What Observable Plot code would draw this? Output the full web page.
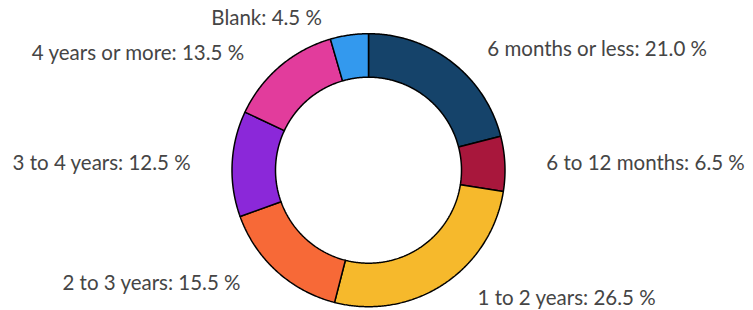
<!DOCTYPE html>
<html>
<head>
<meta charset="utf-8">
<script src="https://cdn.jsdelivr.net/npm/d3@7"></script>
<script src="https://cdn.jsdelivr.net/npm/@observablehq/plot@0.6"></script>
<style>
  html, body { margin: 0; padding: 0; background: #fff; }
  #chart svg { display: block; }
</style>
</head>
<body>
<div id="chart"></div>
<script>
const categories = ["6 months or less", "6 to 12 months", "1 to 2 years", "2 to 3 years", "3 to 4 years", "4 years or more", "Blank"];
const values = [21.0, 6.5, 26.5, 15.5, 12.5, 13.5, 4.5];
const colors = ["#15436a", "#a8173c", "#f6b92c", "#f76937", "#8b28d9", "#e23c9c", "#3399ee"];

const W = 753, H = 310;
const cx = 368, cy = 169.7;          // centre in pixels
const R = 136.5, r0 = 93;            // outer / inner radius
const labelR = 153, labelDx = 25;

const total = d3.sum(values);
const pie = [];
let acc = 0;
categories.forEach((c, i) => {
  const a0 = acc / total * 2 * Math.PI;
  acc += values[i];
  const a1 = acc / total * 2 * Math.PI;
  pie.push({cat: c, value: values[i], color: colors[i], a0, a1, mid: (a0 + a1) / 2});
});

// polygon points for each slice (y up)
const pts = [];
for (const s of pie) {
  const n = Math.max(4, Math.ceil((s.a1 - s.a0) / (Math.PI / 360)));
  for (let k = 0; k <= n; k++) {
    const a = s.a0 + (s.a1 - s.a0) * k / n;
    pts.push({cat: s.cat, color: s.color, x: R * Math.sin(a), y: R * Math.cos(a)});
  }
  for (let k = n; k >= 0; k--) {
    const a = s.a0 + (s.a1 - s.a0) * k / n;
    pts.push({cat: s.cat, color: s.color, x: r0 * Math.sin(a), y: r0 * Math.cos(a)});
  }
}

const labels = pie.map(s => {
  const sx = Math.sin(s.mid), cy_ = Math.cos(s.mid);
  const right = sx >= 0;
  return {
    text: `${s.cat}: ${s.value.toFixed(1)} %`,
    right,
    x: labelR * sx + (right ? labelDx : -labelDx),
    y: labelR * cy_
  };
});

const textStyle = {fontSize: 20.5, fill: "#454545", fontFamily: "Lato, sans-serif"};

const plot = Plot.plot({
  width: W, height: H,
  margin: 0,
  x: {domain: [-cx, W - cx], axis: null},
  y: {domain: [-(H - cy), cy], axis: null},
  style: {background: "#fff"},
  marks: [
    Plot.line(pts, {x: "x", y: "y", z: "cat", fill: d => d.color, stroke: "#000", strokeWidth: 1.5, curve: "linear-closed", strokeLinejoin: "miter"}),
    Plot.text(labels.filter(d => d.right), {x: "x", y: "y", text: "text", textAnchor: "start", ...textStyle}),
    Plot.text(labels.filter(d => !d.right), {x: "x", y: "y", text: "text", textAnchor: "end", ...textStyle})
  ]
});
document.getElementById("chart").appendChild(plot);
</script>
</body>
</html>
